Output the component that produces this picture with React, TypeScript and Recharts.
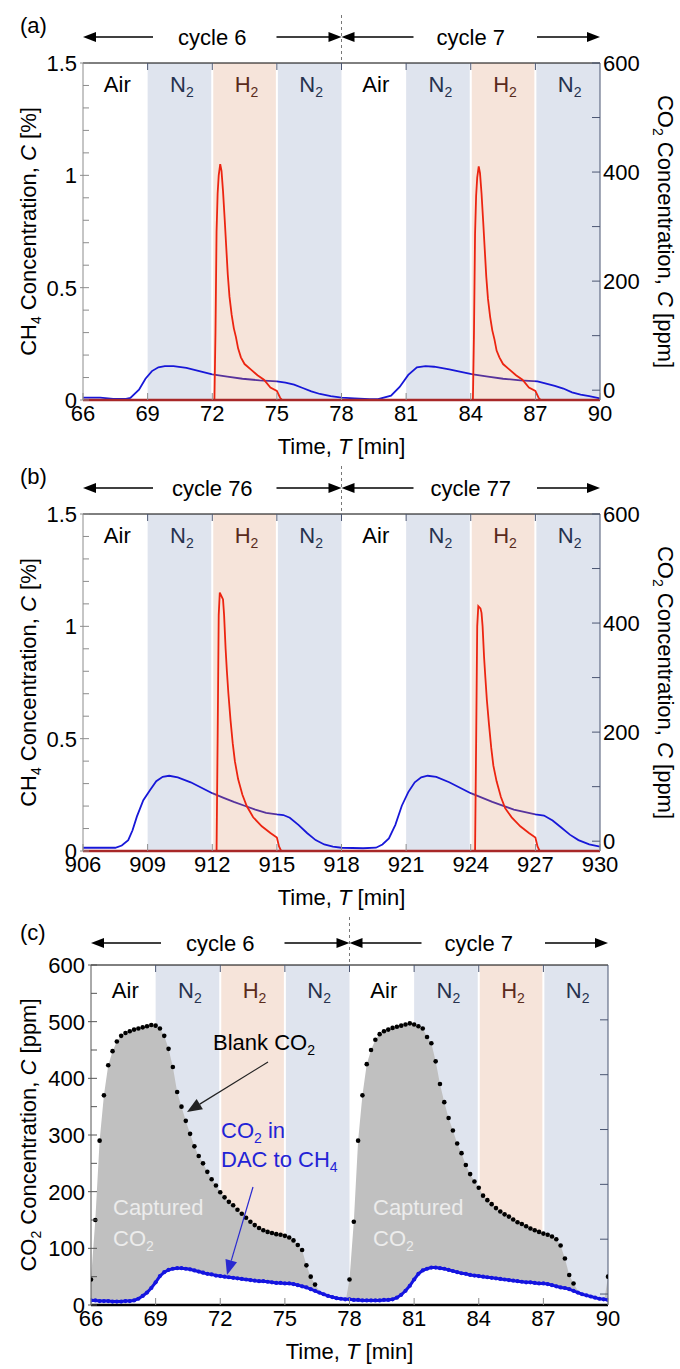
import React from 'react';
import { ComposedChart, Line, Area, XAxis, YAxis, ReferenceArea, ReferenceLine } from 'recharts';

const FONT = '"Liberation Sans", Arial, Helvetica, sans-serif';
const AXIS_GREY = '#8c8c8c';
const AXIS_SLATE = '#4b5672';
const N2_FILL = '#dfe4ee';
const H2_FILL = '#f6e4da';
const RED = '#ec2410';
const BLUE = '#1717d8';
const PURPLE = '#57339c';

// gas phases in each 24 min window
const phases = ['Air', 'N2', 'H2', 'N2', 'Air', 'N2', 'H2', 'N2'];
const startsA = [66, 69, 72, 75, 78, 81, 84, 87];
const endsA = [69, 72, 75, 78, 81, 84, 87, 90];
const startsB = [906, 909, 912, 915, 918, 921, 924, 927];
const endsB = [909, 912, 915, 918, 921, 924, 927, 930];
const ticksA = [66, 69, 72, 75, 78, 81, 84, 87, 90];
const ticksB = [906, 909, 912, 915, 918, 921, 924, 927, 930];

const ch4Ticks = [0, 0.1, 0.2, 0.3, 0.4, 0.5, 0.6, 0.7, 0.8, 0.9, 1, 1.1, 1.2, 1.3, 1.4, 1.5];
const ch4Labels = [0, 0.5, 1, 1.5];
const co2Ticks = [0, 100, 200, 300, 400, 500, 600];
const co2Labels = [0, 200, 400, 600];
const capTicks = [0, 50, 100, 150, 200, 250, 300, 350, 400, 450, 500, 550, 600];
const capLabels = [0, 100, 200, 300, 400, 500, 600];
const capRightTicks = [0, 100, 200, 300, 400, 500];

// (a) cycles 6-7
const aCo2T = [66, 66.8, 67.4, 68.0, 68.2, 68.6, 68.9, 69.2, 69.5, 69.8, 70.2, 70.8, 71.4, 72.0, 72.7, 73.4, 74.2, 75.0, 75.4, 75.8, 76.2, 76.6, 77.0, 77.5, 78.0, 78.6, 79.3, 79.7, 80.3, 80.7, 81.1, 81.5, 81.9, 82.3, 83.0, 83.6, 84.1, 84.8, 85.5, 86.3, 87.1, 87.5, 87.9, 88.3, 88.7, 89.1, 89.5, 90];
const aCo2V = [-13.5, -13.5, -16, -16, -14, 1, 21, 35, 42, 44, 44, 41, 35, 29, 25, 21, 18, 16, 14, 10, 4, -2, -7, -11, -13.5, -15, -16.5, -16.5, -10, 6, 28, 42, 44, 43, 38, 33, 29, 25, 21, 18, 16, 12, 8, 3, -4, -8, -11, -15];
const aCh4T = [66, 72.1, 72.15, 72.2, 72.25, 72.3, 72.37, 72.43, 72.5, 72.58, 72.65, 72.72, 72.8, 72.9, 73.0, 73.1, 73.2, 73.33, 73.5, 73.8, 74.1, 74.4, 74.7, 75.0, 75.15, 75.25,
  84.1, 84.15, 84.2, 84.25, 84.3, 84.37, 84.43, 84.5, 84.58, 84.65, 84.72, 84.8, 84.9, 85.0, 85.1, 85.2, 85.33, 85.5, 85.8, 86.1, 86.4, 86.7, 87.0, 87.15, 87.25, 90];
const aCh4V = [0, 0, 0.3, 0.75, 0.92, 1.0, 1.05, 1.02, 0.93, 0.8, 0.68, 0.56, 0.46, 0.38, 0.32, 0.28, 0.23, 0.19, 0.16, 0.135, 0.11, 0.09, 0.055, 0.04, 0.01, 0,
  0, 0.3, 0.74, 0.91, 0.99, 1.04, 1.01, 0.92, 0.79, 0.67, 0.55, 0.45, 0.37, 0.31, 0.27, 0.22, 0.19, 0.16, 0.135, 0.11, 0.09, 0.055, 0.04, 0.01, 0, 0];

// (b) cycles 76-77
const bCo2T = [906, 907, 907.5, 907.8, 908.1, 908.3, 908.5, 908.8, 909.1, 909.4, 909.7, 910.0, 910.4, 911, 911.5, 912, 912.5, 913, 913.5, 914, 914.5, 915, 915.3, 915.6, 916, 916.4, 916.8, 917.2, 917.6, 918,
  919, 919.6, 919.9, 920.2, 920.5, 920.8, 921.1, 921.4, 921.7, 922, 922.4, 923, 924, 925, 926, 927, 927.4, 927.8, 928.2, 928.6, 929, 929.5, 930];
const bCo2V = [-12, -12, -12, -8, 2, 20, 45, 75, 93, 110, 118, 120, 117, 108, 98, 88, 80, 72, 65, 58, 52, 49, 48, 43, 30, 15, 2, -6, -10, -12,
  -13, -12, -6, 5, 30, 65, 90, 108, 117, 120, 118, 108, 88, 72, 58, 49, 47, 38, 25, 12, 2, -6, -10];
const bCh4T = [906, 912.2, 912.25, 912.3, 912.35, 912.45, 912.5, 912.55, 912.62, 912.68, 912.75, 912.85, 912.95, 913.05, 913.2, 913.4, 913.6, 913.9, 914.3, 914.7, 915.0, 915.1, 915.2,
  924.2, 924.25, 924.3, 924.35, 924.45, 924.5, 924.55, 924.62, 924.68, 924.75, 924.85, 924.95, 925.05, 925.2, 925.4, 925.6, 925.9, 926.3, 926.7, 927.0, 927.1, 927.2, 930];
const bCh4V = [0, 0, 0.5, 1.05, 1.15, 1.13, 1.12, 1.05, 0.9, 0.8, 0.7, 0.58, 0.48, 0.4, 0.32, 0.25, 0.2, 0.15, 0.11, 0.08, 0.06, 0.02, 0,
  0, 0.48, 1.0, 1.09, 1.08, 1.06, 1.0, 0.86, 0.77, 0.67, 0.56, 0.46, 0.38, 0.31, 0.24, 0.19, 0.15, 0.11, 0.08, 0.06, 0.02, 0, 0];

// (c) blank CO2 vs CO2 left in DAC-to-CH4 run
const cTime = [
  66, 66.2, 66.4, 66.6, 66.8, 67, 67.2, 67.4, 67.6, 67.8,
  68, 68.2, 68.4, 68.6, 68.8, 69, 69.2, 69.4, 69.6, 69.8,
  70, 70.2, 70.4, 70.6, 70.8, 71, 71.2, 71.4, 71.6, 71.8,
  72, 72.2, 72.4, 72.6, 72.8, 73, 73.2, 73.4, 73.6, 73.8,
  74, 74.2, 74.4, 74.6, 74.8, 75, 75.2, 75.4, 75.6, 75.8,
  76, 76.2, 76.4, 76.6, 76.8, 77, 77.2, 77.4, 77.6, 77.8,
  78, 78.2, 78.4, 78.6, 78.8, 79, 79.2, 79.4, 79.6, 79.8,
  80, 80.2, 80.4, 80.6, 80.8, 81, 81.2, 81.4, 81.6, 81.8,
  82, 82.2, 82.4, 82.6, 82.8, 83, 83.2, 83.4, 83.6, 83.8,
  84, 84.2, 84.4, 84.6, 84.8, 85, 85.2, 85.4, 85.6, 85.8,
  86, 86.2, 86.4, 86.6, 86.8, 87, 87.2, 87.4, 87.6, 87.8,
  88, 88.2, 88.4, 88.6, 88.8, 89, 89.2, 89.4, 89.6, 89.8,
  90,
];
const cBlank = [
  45, 150, 290, 370, 423, 448, 465, 475, 480, 483,
  486, 488, 490, 492, 494, 493, 488, 475, 452, 420,
  376, 350, 325, 302, 280, 263, 250, 235, 222, 211,
  199, 190, 182, 176, 168, 161, 154, 147, 141, 136,
  132, 129, 127, 125, 124, 122, 119, 114, 106, 97,
  70, 50, 36, 25, 12, 5, 3, 2, 2, 2,
  45, 147, 290, 370, 425, 450, 468, 478, 483, 486,
  489, 491, 493, 495, 497, 495, 492, 488, 473, 462,
  430, 390, 358, 330, 308, 285, 268, 247, 231, 218,
  207, 193, 185, 178, 171, 165, 160, 156, 151, 146,
  143, 139, 135, 132, 129, 126, 124, 121, 116, 105,
  82, 53, 38, 25, 10, 4, 2, 2, 2, 2,
  50,
];
const cDac = [
  8, 8, 7, 7, 7, 6, 6, 6, 7, 7,
  8, 11, 16, 22, 30, 40, 51, 58, 62, 64,
  65, 65, 64, 63, 61, 59, 57, 55, 54, 52,
  51, 50, 49, 48, 47, 46, 45, 44, 43, 42,
  42, 41, 40, 39, 39, 38, 38, 37, 35, 33,
  31, 28, 25, 22, 19, 16, 14, 12, 11, 10,
  10, 9, 9, 8, 8, 8, 8, 8, 9, 9,
  10, 13, 18, 25, 34, 45, 55, 61, 64, 66,
  66, 65, 64, 62, 60, 58, 56, 55, 53, 52,
  51, 50, 49, 48, 47, 46, 45, 44, 43, 42,
  41, 40, 40, 39, 38, 38, 37, 35, 33, 31,
  30, 28, 25, 22, 19, 17, 15, 13, 11, 10,
  9,
];

const txt = { fontFamily: FONT, fontSize: 22, fill: '#000' };

const bandFill = (p: string) => (p === 'N2' ? N2_FILL : p === 'H2' ? H2_FILL : 'none');
const bandInk = (p: string) => (p === 'N2' ? '#26324f' : p === 'H2' ? '#5a2b1c' : '#000');

const bandLabel = (phase: string, dy: number) => (props: any) => {
  const vb = props.viewBox || props;
  const cx = vb.x + vb.width / 2 + 2;
  return (
    <text x={cx} y={vb.y + dy} textAnchor="middle" {...txt} fill={bandInk(phase)}>
      {phase === 'Air' ? 'Air' : phase[0]}
      {phase !== 'Air' && <tspan fontSize={14} dy={5}>2</tspan>}
    </text>
  );
};

const bottomTick = (p: any) => (
  <g>
    <line x1={p.x} x2={p.x} y1={p.y} y2={p.y - 7} stroke={AXIS_GREY} />
    <text x={p.x} y={p.y + 21} textAnchor="middle" {...txt}>{p.payload.value}</text>
  </g>
);

const topTick = (p: any) => (
  <line x1={p.x} x2={p.x} y1={p.y} y2={p.y + 7} stroke={AXIS_SLATE} />
);

const leftTick = (labels: number[], color: string) => (p: any) => {
  const v = p.payload.value;
  const major = labels.includes(v);
  return (
    <g>
      <line x1={major ? p.x - 3 : p.x} x2={p.x + 6} y1={p.y} y2={p.y} stroke={color} />
      {major && <text x={p.x - 6} y={p.y + 8} textAnchor="end" {...txt}>{String(v)}</text>}
    </g>
  );
};

const rightTick = (labels: number[]) => (p: any) => {
  const v = p.payload.value;
  return (
    <g>
      <line x1={p.x - 8} x2={p.x} y1={p.y} y2={p.y} stroke={AXIS_SLATE} />
      {labels.includes(v) && <text x={p.x + 3} y={p.y + 8} textAnchor="start" {...txt}>{String(v)}</text>}
    </g>
  );
};

// blank-CO2 markers that fall under the DAC curve are hidden in the original
const blankDot = (p: any) => {
  const k = 'bd' + p.index;
  if (!p.payload || p.payload.blank <= p.payload.dac + 3) return <g key={k} />;
  return <circle key={k} cx={p.cx} cy={p.cy} r={2.3} fill="#000" />;
};

function bands(starts: number[], ends: number[], dy: number) {
  return phases.map((ph, i) => (
    <ReferenceArea key={'band' + i} xAxisId="b" yAxisId="L" x1={starts[i]} x2={ends[i]}
      fill={bandFill(ph)} fillOpacity={1} stroke="none" zIndex={50} ifOverflow="hidden"
      label={{ content: bandLabel(ph, dy) }} />
  ));
}

function gaps(starts: number[], ends: number[]) {
  // thin white seams on both sides of each H2 band
  const xs: number[] = [];
  phases.forEach((ph, i) => { if (ph === 'H2') xs.push(starts[i], ends[i]); });
  return xs.map((x) => (
    <ReferenceLine key={'gap' + x} xAxisId="b" yAxisId="L" x={x} stroke="#fff" strokeWidth={2} zIndex={60} />
  ));
}

type GasProps = {
  top: number; starts: number[]; ends: number[]; ticks: number[];
  ch4T: number[]; ch4V: number[]; co2T: number[]; co2V: number[]; gid: string;
};

function GasPanel({ top, starts, ends, ticks, ch4T, ch4V, co2T, co2V, gid }: GasProps) {
  const ch4 = ch4T.map((t, i) => ({ t, v: ch4V[i] }));
  const co2 = co2T.map((t, i) => ({ t, v: co2V[i] }));
  const lo = ticks[0];
  const hi = ticks[ticks.length - 1];
  const stops: React.ReactNode[] = [];
  phases.forEach((ph, i) => {
    if (ph !== 'H2') return;
    const a = (starts[i] - lo) / (hi - lo);
    const b = (ends[i] - lo) / (hi - lo);
    stops.push(
      <stop key={'s' + i + 'a'} offset={a} stopColor={BLUE} />,
      <stop key={'s' + i + 'b'} offset={a} stopColor={PURPLE} />,
      <stop key={'s' + i + 'c'} offset={b} stopColor={PURPLE} />,
      <stop key={'s' + i + 'd'} offset={b} stopColor={BLUE} />,
    );
  });
  return (
    <div style={{ position: 'absolute', left: 0, top, width: 680, height: 450 }}>
      <ComposedChart width={680} height={450} margin={{ top: 62, right: 0, bottom: 20, left: 0 }}>
        <defs>
          <linearGradient id={gid} x1="0" y1="0" x2="1" y2="0">{stops}</linearGradient>
        </defs>
        <XAxis xAxisId="b" type="number" dataKey="t" domain={[lo, hi]} ticks={ticks} interval={0}
          tickSize={0} tickMargin={0} tickLine={false} tick={bottomTick} height={30}
          axisLine={{ stroke: '#a82828', strokeWidth: 2.5 }} allowDataOverflow />
        <XAxis xAxisId="t" orientation="top" type="number" dataKey="t" domain={[lo, hi]} ticks={starts.slice(1)}
          interval={0} tickSize={0} tickMargin={0} tickLine={false} tick={topTick} height={1}
          axisLine={{ stroke: '#000' }} allowDataOverflow />
        <YAxis yAxisId="L" width={83} domain={[0, 1.5]} ticks={ch4Ticks} interval={0} tickSize={0} tickMargin={0}
          tickLine={false} tick={leftTick(ch4Labels, AXIS_GREY)} axisLine={{ stroke: AXIS_GREY }} allowDataOverflow />
        <YAxis yAxisId="R" orientation="right" width={80} domain={[-18, 600]} ticks={co2Ticks} interval={0}
          tickSize={0} tickMargin={0} tickLine={false} tick={rightTick(co2Labels)} axisLine={{ stroke: AXIS_SLATE }} allowDataOverflow />
        {bands(starts, ends, 29)}
        {gaps(starts, ends)}
        <Line xAxisId="b" yAxisId="R" data={co2} dataKey="v" type="linear" stroke={`url(#${gid})`} strokeWidth={1.8}
          dot={false} activeDot={false} isAnimationActive={false} />
        <Line xAxisId="b" yAxisId="L" data={ch4} dataKey="v" type="linear" stroke={RED} strokeWidth={1.8}
          dot={false} activeDot={false} isAnimationActive={false} />
      </ComposedChart>
    </div>
  );
}

function CapturePanel({ top }: { top: number }) {
  const data = cTime.map((t, i) => ({ t, blank: cBlank[i], dac: cDac[i] }));
  return (
    <div style={{ position: 'absolute', left: 0, top, width: 680, height: 450 }}>
      <ComposedChart width={680} height={450} data={data} margin={{ top: 62, right: 0, bottom: 17, left: 0 }}>
        <XAxis xAxisId="b" type="number" dataKey="t" domain={[66, 90]} ticks={ticksA} interval={0}
          tickSize={0} tickMargin={0} tickLine={false} tick={bottomTick} height={30}
          axisLine={{ stroke: '#000', strokeWidth: 2.5 }} allowDataOverflow />
        <XAxis xAxisId="t" orientation="top" type="number" dataKey="t" domain={[66, 90]} ticks={startsA.slice(1)}
          interval={0} tickSize={0} tickMargin={0} tickLine={false} tick={topTick} height={1}
          axisLine={{ stroke: '#000' }} allowDataOverflow />
        <YAxis yAxisId="L" width={91} domain={[0, 600]} ticks={capTicks} interval={0} tickSize={0} tickMargin={0}
          tickLine={false} tick={leftTick(capLabels, '#555')} axisLine={{ stroke: '#555' }} allowDataOverflow />
        <YAxis yAxisId="R" orientation="right" width={72} domain={[-20, 600]} ticks={capRightTicks} interval={0}
          tickSize={0} tickMargin={0} tickLine={false} tick={rightTick([])} axisLine={{ stroke: AXIS_SLATE }} allowDataOverflow />
        {bands(startsA, endsA, 33)}
        {gaps(startsA, endsA)}
        <Area xAxisId="b" yAxisId="L" dataKey="blank" type="linear" fill="#c0c0c0" fillOpacity={1} stroke="none"
          dot={false} activeDot={false} isAnimationActive={false} zIndex={100} />
        <Area xAxisId="b" yAxisId="L" dataKey="dac" type="linear" fill="#fff" fillOpacity={1} stroke="none"
          dot={false} activeDot={false} isAnimationActive={false} zIndex={200} />
        <Line xAxisId="b" yAxisId="L" dataKey="blank" type="linear" stroke="none"
          dot={blankDot} activeDot={false} isAnimationActive={false} zIndex={300} />
        <Line xAxisId="b" yAxisId="L" dataKey="dac" type="linear" stroke="#1414e0" strokeWidth={3}
          dot={{ r: 2.1, fill: '#1414e0', stroke: 'none' }} activeDot={false} isAnimationActive={false} zIndex={400} />
      </ComposedChart>
    </div>
  );
}

function Head({ x, y, dir }: { x: number; y: number; dir: number }) {
  const l = 13;
  const h = 5;
  return <polygon points={`${x},${y} ${x - dir * l},${y - h} ${x - dir * l},${y + h}`} fill="#000" />;
}

function Pointer({ x1, y1, x2, y2, color }: { x1: number; y1: number; x2: number; y2: number; color: string }) {
  const a = Math.atan2(y2 - y1, x2 - x1);
  const l = 15;
  const w = 6;
  const bx = x2 - l * Math.cos(a);
  const by = y2 - l * Math.sin(a);
  const px = -Math.sin(a) * w;
  const py = Math.cos(a) * w;
  return (
    <g>
      <line x1={x1} y1={y1} x2={bx} y2={by} stroke={color} strokeWidth={1.2} />
      <polygon points={`${x2},${y2} ${bx + px},${by + py} ${bx - px},${by - py}`} fill={color} />
    </g>
  );
}

type Geo = { L: number; R: number; T: number; B: number };

function Frame({ g, letter, c1, c2, letterDy, arrowDy, leftTitle, rightTitle }: {
  g: Geo; letter: string; c1: string; c2: string; letterDy: number; arrowDy: number;
  leftTitle: React.ReactNode; rightTitle?: React.ReactNode;
}) {
  const M = (g.L + g.R) / 2;
  const ay = g.T - arrowDy;
  const cy = (g.T + g.B) / 2;
  return (
    <g>
      <text x={20} y={g.T - letterDy} {...txt}>({letter})</text>
      <line x1={M} x2={M} y1={g.T - 48} y2={g.T} stroke="#777" strokeDasharray="3 3" />
      <Head x={g.L} y={ay} dir={-1} />
      <line x1={g.L + 10} x2={g.L + 70} y1={ay} y2={ay} stroke="#000" strokeWidth={1.3} />
      <text x={(g.L + M) / 2} y={ay + 8} textAnchor="middle" {...txt}>{c1}</text>
      <line x1={M - 65} x2={M - 10} y1={ay} y2={ay} stroke="#000" strokeWidth={1.3} />
      <Head x={M} y={ay} dir={1} />
      <Head x={M} y={ay} dir={-1} />
      <line x1={M + 10} x2={M + 72} y1={ay} y2={ay} stroke="#000" strokeWidth={1.3} />
      <text x={(M + g.R) / 2} y={ay + 8} textAnchor="middle" {...txt}>{c2}</text>
      <line x1={g.R - 63} x2={g.R - 10} y1={ay} y2={ay} stroke="#000" strokeWidth={1.3} />
      <Head x={g.R} y={ay} dir={1} />
      <text x={M} y={g.B + 54} textAnchor="middle" {...txt}>
        Time, <tspan fontStyle="italic">T</tspan> [min]
      </text>
      <text x={36} y={cy} transform={`rotate(-90 36 ${cy})`} textAnchor="middle" {...txt}>{leftTitle}</text>
      {rightTitle && (
        <text x={658} y={cy} transform={`rotate(90 658 ${cy})`} textAnchor="middle" {...txt}>{rightTitle}</text>
      )}
    </g>
  );
}

// subscript followed by the rest of the string back on the baseline
const sub = (c: string, rest?: string) => (
  <>
    <tspan fontSize={14} dy={5}>{c}</tspan>
    {rest && <tspan dy={-5}>{rest}</tspan>}
  </>
);

const ch4Title = (
  <>CH{sub('4', ' Concentration, ')}<tspan fontStyle="italic">C</tspan> [%]</>
);
const co2Title = (
  <>CO{sub('2', ' Concentration, ')}<tspan fontStyle="italic">C</tspan> [ppm]</>
);

const GA: Geo = { L: 83, R: 600, T: 63, B: 400 };
const GB: Geo = { L: 83, R: 600, T: 514, B: 851 };
const GC: Geo = { L: 91, R: 608, T: 965, B: 1305 };

export default function App() {
  return (
    <div style={{ position: 'absolute', left: 0, top: 0, width: 680, height: 1369, overflow: 'hidden', background: '#fff' }}>
      <GasPanel top={0} starts={startsA} ends={endsA} ticks={ticksA} ch4T={aCh4T} ch4V={aCh4V} co2T={aCo2T} co2V={aCo2V} gid="gradA" />
      <GasPanel top={451} starts={startsB} ends={endsB} ticks={ticksB} ch4T={bCh4T} ch4V={bCh4V} co2T={bCo2T} co2V={bCo2V} gid="gradB" />
      <CapturePanel top={902} />
      <svg width={680} height={1369} style={{ position: 'absolute', left: 0, top: 0, pointerEvents: 'none' }}>
        <Frame g={GA} letter="a" c1="cycle 6" c2="cycle 7" letterDy={30} arrowDy={26} leftTitle={ch4Title} rightTitle={co2Title} />
        <Frame g={GB} letter="b" c1="cycle 76" c2="cycle 77" letterDy={30} arrowDy={26} leftTitle={ch4Title} rightTitle={co2Title} />
        <Frame g={GC} letter="c" c1="cycle 6" c2="cycle 7" letterDy={25} arrowDy={22} leftTitle={co2Title} />
        <text x={213} y={1050} {...txt}>Blank CO{sub('2')}</text>
        <Pointer x1={268} y1={1062} x2={187} y2={1112} color="#222" />
        <text x={221} y={1138} {...txt} fill="#2323d6">CO{sub('2', ' in')}</text>
        <text x={221} y={1167} {...txt} fill="#2323d6">DAC to CH{sub('4')}</text>
        <Pointer x1={253} y1={1187} x2={227} y2={1275} color="#2a2ad0" />
        <text x={113} y={1215} {...txt} fill="#ececec">Captured</text>
        <text x={113} y={1246} {...txt} fill="#ececec">CO{sub('2')}</text>
        <text x={373} y={1215} {...txt} fill="#ececec">Captured</text>
        <text x={373} y={1246} {...txt} fill="#ececec">CO{sub('2')}</text>
      </svg>
    </div>
  );
}
